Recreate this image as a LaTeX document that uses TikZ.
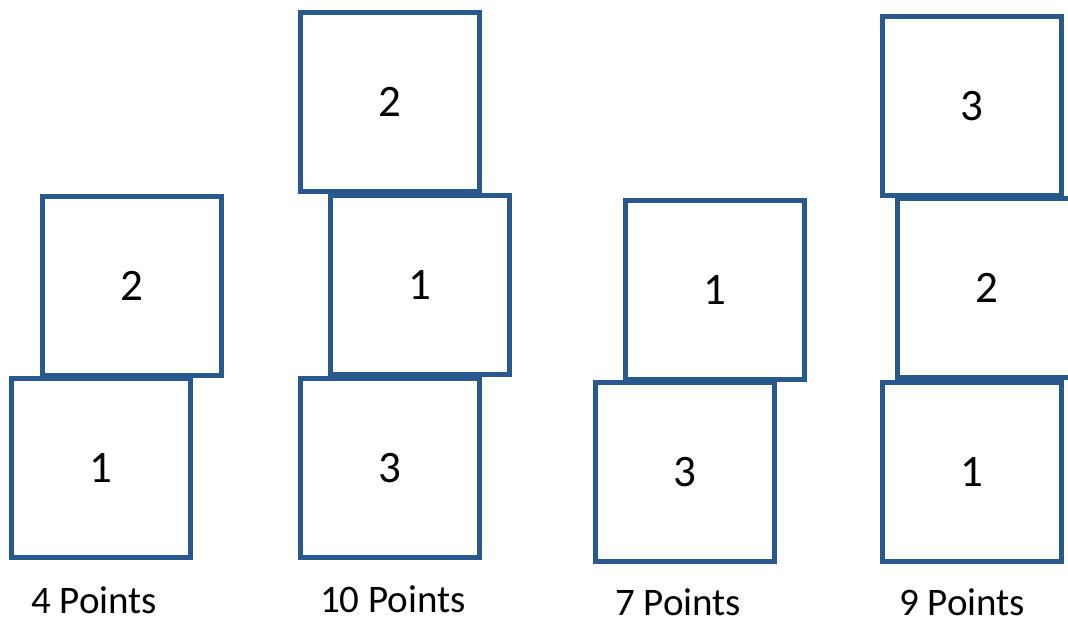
\documentclass[tikz,border=0pt]{standalone}
\usepackage{fontspec}
\setmainfont{Carlito}
\definecolor{tileblue}{RGB}{41,88,140}
\begin{document}
\begin{tikzpicture}[x=1pt,y=-1pt,
    tile/.style={draw=tileblue,line width=4.5pt,minimum size=179pt,inner sep=0pt,font=\fontsize{45}{50}\selectfont},
    score/.style={inner sep=0pt,font=\fontsize{39}{44}\selectfont}]
  \useasboundingbox (0,0) rectangle (1068,623);
  % 4 points
  \node[tile] (a2) at (132,286) {2};
  \node[tile] (a1) at (101,468) {1};
  \node[score] (ap) at (94,600) {4 Points};
  % 10 points
  \node[tile] (b2) at (390,102) {2};
  \node[tile] (b1) at (420,285) {1};
  \node[tile] (b3) at (390,468) {3};
  \node[score] (bp) at (393,599) {10 Points};
  % 7 points
  \node[tile] (c1) at (715,290) {1};
  \node[tile] (c3) at (685,472) {3};
  \node[score] (cp) at (678,602) {7 Points};
  % 9 points
  \node[tile] (d3) at (972,106) {3};
  \node[tile] (d2) at (987,288) {2};
  \node[tile] (d1) at (972,472) {1};
  \node[score] (dp) at (962,602) {9 Points};
\end{tikzpicture}
\end{document}
